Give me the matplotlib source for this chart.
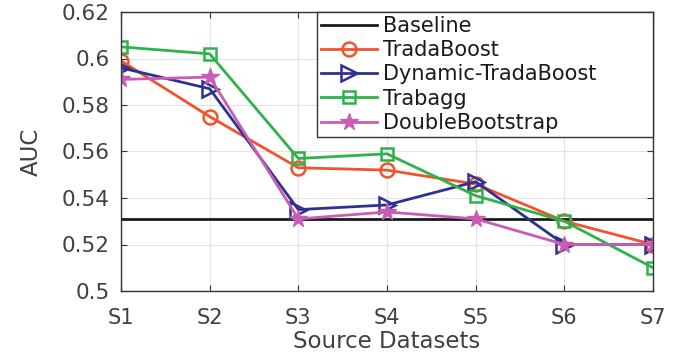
import matplotlib
matplotlib.use("Agg")
import matplotlib.pyplot as plt

categories = ["S1", "S2", "S3", "S4", "S5", "S6", "S7"]
baseline = 0.531
tradaboost = [0.599, 0.575, 0.553, 0.552, 0.546, 0.530, 0.520]
dynamic_tradaboost = [0.596, 0.587, 0.535, 0.537, 0.547, 0.520, 0.520]
trabagg = [0.605, 0.602, 0.557, 0.559, 0.541, 0.530, 0.510]
double_bootstrap = [0.591, 0.592, 0.531, 0.534, 0.531, 0.520, 0.520]
yticks = [0.5, 0.52, 0.54, 0.56, 0.58, 0.6, 0.62]
ytick_labels = ["0.5", "0.52", "0.54", "0.56", "0.58", "0.6", "0.62"]

plt.rcParams['font.family'] = ['DejaVu Sans']
txt = '#404040'

fig = plt.figure(figsize=(6.89, 3.58), dpi=100)
ax = fig.add_axes([121/689, 1-291/358, (653-121)/689, (291-12)/358])
x = list(range(len(categories)))

ax.plot([x[0], x[-1]], [baseline, baseline], color='#1a1a1a', lw=2, label='Baseline')
ax.plot(x, tradaboost, color='#F2532B', lw=2, marker='o', ms=10, mfc='none', mew=1.8, label='TradaBoost')
ax.plot(x, dynamic_tradaboost, color='#2E3192', lw=2, marker='>', ms=11, mfc='none', mew=1.8, label='Dynamic-TradaBoost')
ax.plot(x, trabagg, color='#2DB34A', lw=2, marker='s', ms=9, mfc='none', mew=1.8, label='Trabagg')
ax.plot(x, double_bootstrap, color='#C95DB5', lw=2, marker='*', ms=13, label='DoubleBootstrap')

ax.set_xlim(0, 6)
ax.set_ylim(0.5, 0.62)
ax.set_xticks(x)
ax.set_xticklabels(categories)
ax.set_yticks(yticks)
ax.set_yticklabels(ytick_labels)
ax.grid(True, color='#e3e3e3', lw=0.8)
ax.set_axisbelow(True)
ax.tick_params(direction='in', length=4, colors='#333333', labelcolor=txt, labelsize=15,
               top=True, right=True)
ax.tick_params(axis='y', pad=8, labelsize=15.5)
ax.tick_params(axis='x', pad=12)
for s in ax.spines.values():
    s.set_color('#333333')
    s.set_linewidth(1)
ax.set_xlabel('Source Datasets', fontsize=16.5, color=txt, labelpad=2)
ax.set_ylabel('AUC', fontsize=16.5, color=txt, labelpad=14)

leg = ax.legend(loc='upper left', bbox_to_anchor=(0.368, 0.556, 0.632, 0.444), mode='expand',
                fontsize=15, frameon=True, fancybox=False,
                edgecolor='#333333', borderaxespad=0, handlelength=2.7,
                handletextpad=0.3, labelspacing=0.2, borderpad=0.2)
leg.get_frame().set_linewidth(1)
leg.get_frame().set_alpha(1)
for t in leg.get_texts():
    t.set_color('#1a1a1a')

fig.savefig('out.png', dpi=100)
